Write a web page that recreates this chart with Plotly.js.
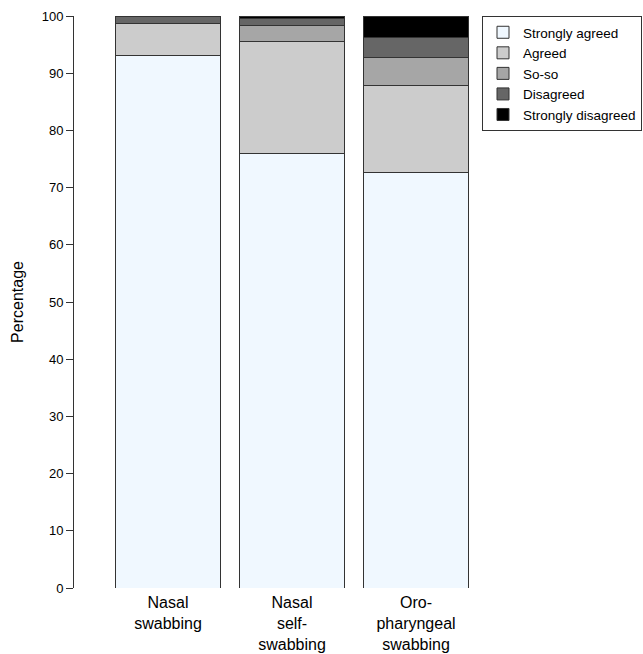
<!DOCTYPE html>
<html><head><meta charset="utf-8">
<script src="https://cdn.plot.ly/plotly-3.0.1.min.js"></script>
<style>body{margin:0;background:#fff}#c{width:643px;height:654px}</style>
</head><body><div id="c"></div>
<script>
const categories = ["Nasal<br>swabbing", "Nasal<br>self-<br>swabbing", "Oro-<br>pharyngeal<br>swabbing"];
const responses = ["Strongly agreed", "Agreed", "So-so", "Disagreed", "Strongly disagreed"];
const stronglyAgreed = [93.1, 76.0, 72.7];
const agreed = [5.6, 19.6, 15.2];
const soso = [0.0, 2.7, 4.8];
const disagreed = [1.3, 1.3, 3.6];
const stronglyDisagreed = [0.0, 0.4, 3.7];
const yTicks = [0, 10, 20, 30, 40, 50, 60, 70, 80, 90, 100];

const series = [stronglyAgreed, agreed, soso, disagreed, stronglyDisagreed];
const colors = ["#F0F8FF", "#CCCCCC", "#A6A6A6", "#666666", "#000000"];
const xs = [0, 1, 2];
const traces = series.map((vals, i) => ({
  type: "bar", x: xs, y: vals, name: responses[i],
  marker: {color: colors[i], line: {color: "#333333", width: 1}},
  hoverinfo: "skip"
}));

const W = 643, L = 74, plotW = 406, R = 0;
const layout = {
  width: W, height: 654,
  paper_bgcolor: "#fff", plot_bgcolor: "rgba(0,0,0,0)",
  margin: {l: L, r: R, t: 16, b: 66},
  barmode: "stack", bargap: 0.161,
  font: {family: "Liberation Sans, Arial, sans-serif", color: "#000"},
  xaxis: {domain: [0, plotW / (W - L - R)], range: [-0.758, 2.516], tickvals: xs, ticktext: categories,
          showline: false, ticks: "", showgrid: false, zeroline: false, tickfont: {size: 16},
          ticklabelstandoff: 3, fixedrange: true},
  yaxis: {range: [0, 100], tickvals: yTicks, ticks: "outside", ticklen: 7, tickcolor: "#333",
          showline: true, linecolor: "#333", linewidth: 1, showgrid: false, zeroline: false,
          tickfont: {size: 13}, title: {text: "Percentage", font: {size: 16}, standoff: 14}},
  showlegend: true,
  legend: {x: (482 - L) / (W - L - R), xanchor: "left", y: 1, yanchor: "top", traceorder: "normal",
           bordercolor: "#333", borderwidth: 1, font: {size: 13.5}, tracegroupgap: 0}
};
Plotly.newPlot("c", traces, layout, {displayModeBar: false, staticPlot: true});
</script></body></html>
